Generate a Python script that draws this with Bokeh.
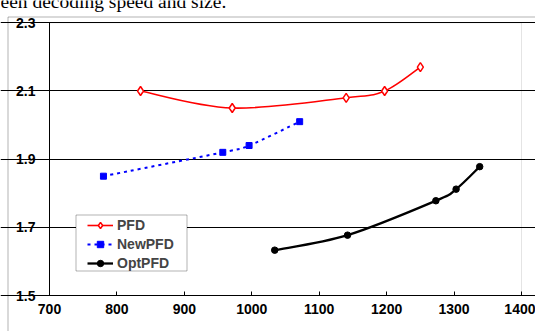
import numpy as np
from bokeh.plotting import figure
from bokeh.models import (Range1d, FixedTicker, BoxAnnotation, Label, Legend,
                          LegendItem)
from bokeh.embed import file_html
from bokeh.resources import INLINE

# ---- data ----
pfd_x = [835, 971, 1140, 1197, 1250]
pfd_y = [2.10, 2.05, 2.08, 2.10, 2.17]
newpfd_x = [780, 957, 996, 1071]
newpfd_y = [1.85, 1.92, 1.94, 2.01]
optpfd_x = [1034, 1142, 1273, 1303, 1338]
optpfd_y = [1.633, 1.677, 1.778, 1.812, 1.878]

x_ticks = [700, 800, 900, 1000, 1100, 1200, 1300, 1400]
y_ticks = [1.5, 1.7, 1.9, 2.1, 2.3]
y_tick_labels = ["1.5", "1.7", "1.9", "2.1", "2.3"]
series_names = ["PFD", "NewPFD", "OptPFD"]
caption = "een decoding speed and size."

FONT = "Liberation Sans"

# ---- layout (pixels) ----
W, H = 535, 331
PLOT_L, PLOT_R, PLOT_T, PLOT_B = 49, 521, 22.3, 295
XMIN, XMAX = x_ticks[0], x_ticks[-1]
YMIN, YMAX = y_ticks[0], y_ticks[-1]
ppx = (PLOT_R - PLOT_L) / (XMAX - XMIN)
ppy = (PLOT_B - PLOT_T) / (YMAX - YMIN)
x_range = Range1d(XMIN - PLOT_L / ppx, XMAX + (W - PLOT_R) / ppx)
y_range = Range1d(YMIN - (H - PLOT_B) / ppy, YMAX + PLOT_T / ppy)


def bezier_segments(xs, ys):
    """Smoothed (Excel-like) curve through the data points as cubic Bezier segments."""
    x = np.asarray(xs, float)
    y = np.asarray(ys, float)
    n = len(x)
    xp = np.concatenate([[x[0]], x, [x[-1]]])
    yp = np.concatenate([[y[0]], y, [y[-1]]])
    out = {k: [] for k in ("x0", "y0", "x1", "y1", "cx0", "cy0", "cx1", "cy1")}
    for i in range(n - 1):
        a, b, c, d = i, i + 1, i + 2, i + 3
        out["x0"].append(xp[b]); out["y0"].append(yp[b])
        out["x1"].append(xp[c]); out["y1"].append(yp[c])
        out["cx0"].append(xp[b] + (xp[c] - xp[a]) / 6.0)
        out["cy0"].append(yp[b] + (yp[c] - yp[a]) / 6.0)
        out["cx1"].append(xp[c] - (xp[d] - xp[b]) / 6.0)
        out["cy1"].append(yp[c] - (yp[d] - yp[b]) / 6.0)
    return out


p = figure(width=W, height=H, x_range=x_range, y_range=y_range,
           output_backend="svg", toolbar_location=None,
           min_border_left=0, min_border_right=0,
           min_border_top=0, min_border_bottom=0)
p.background_fill_color = "white"
p.border_fill_color = "white"
p.outline_line_color = None

# axes, drawn at the plot-area edges
p.xaxis.ticker = FixedTicker(ticks=x_ticks)
p.yaxis.ticker = FixedTicker(ticks=y_ticks)
p.yaxis.major_label_overrides = {t: l for t, l in zip(y_ticks, y_tick_labels)}
p.xaxis.fixed_location = YMIN
p.yaxis.fixed_location = XMIN
p.xaxis.bounds = (XMIN, XMAX)
p.yaxis.bounds = (YMIN, YMAX)
for ax in (p.xaxis, p.yaxis):
    ax.axis_line_color = "black"
    ax.axis_line_width = 1
    ax.major_tick_line_color = "black"
    ax.major_tick_in = 4
    ax.major_tick_out = 0
    ax.minor_tick_line_color = None
    ax.major_label_text_font = FONT
    ax.major_label_text_font_style = "bold"
    ax.major_label_text_font_size = "14px"
    ax.major_label_text_color = "black"
p.xaxis.major_label_standoff = 8
p.yaxis.major_label_standoff = 14
p.yaxis.major_tick_line_color = None

p.xgrid.visible = False
p.ygrid.grid_line_color = "black"
p.ygrid.grid_line_width = 1
p.ygrid.bounds = (XMIN, XMAX)

# plot-area border (grey, visible on the right side)
area = BoxAnnotation(left=XMIN, right=XMAX, bottom=YMIN, top=YMAX,
                     fill_alpha=0, line_color="#a6a6a6", line_width=1, level="image")
p.add_layout(area)

# series
seg_cols = dict(x0="x0", y0="y0", x1="x1", y1="y1", cx0="cx0", cy0="cy0", cx1="cx1", cy1="cy1")
r_pfd_line = p.bezier(source=bezier_segments(pfd_x, pfd_y), **seg_cols,
                      line_color="#ff0000", line_width=1.6)
r_pfd_pts = p.scatter(pfd_x, pfd_y, marker="diamond", size=9, line_color="#ff0000",
                      line_width=1.5, fill_color="white")

r_new_line = p.bezier(source=bezier_segments(newpfd_x, newpfd_y), **seg_cols,
                      line_color="#0000ff", line_width=2, line_dash="3 4")
r_new_pts = p.scatter(newpfd_x, newpfd_y, marker="square", size=6, line_color="#0000ff",
                      fill_color="#0000ff")

r_opt_line = p.bezier(source=bezier_segments(optpfd_x, optpfd_y), **seg_cols,
                      line_color="black", line_width=2.3)
r_opt_pts = p.scatter(optpfd_x, optpfd_y, marker="circle", size=6.5, line_color="black",
                      fill_color="black")

# outer chart-area border (its top and left edges are visible)
outer = BoxAnnotation(left=7.5, right=W + 5, top=16.5, bottom=H + 5,
                      left_units="canvas", right_units="canvas",
                      top_units="canvas", bottom_units="canvas",
                      fill_alpha=0, line_color="black", line_width=1)
p.add_layout(outer)

# legend frame
legend_box = BoxAnnotation(left=75.5, right=186.5, top=214.5, bottom=270.5,
                           left_units="canvas", right_units="canvas",
                           top_units="canvas", bottom_units="canvas",
                           fill_color="white", fill_alpha=1,
                           line_color="black", line_width=1)
p.add_layout(legend_box)

legend = Legend(items=[
    LegendItem(label=series_names[0], renderers=[r_pfd_line, r_pfd_pts]),
    LegendItem(label=series_names[1], renderers=[r_new_line, r_new_pts]),
    LegendItem(label=series_names[2], renderers=[r_opt_line, r_opt_pts]),
], location=(83, 56))
legend.background_fill_alpha = 0
legend.border_line_alpha = 0
legend.padding = 4
legend.margin = 0
legend.spacing = 3
legend.label_height = 16
legend.glyph_height = 16
legend.glyph_width = 26
legend.label_standoff = 4
legend.label_text_font = FONT
legend.label_text_font_style = "bold"
legend.label_text_font_size = "14px"
legend.label_text_baseline = "middle"
p.add_layout(legend, "center")

# caption text of the page, cut off at the top as in the reference
cap = Label(x=0, y=1, x_units="canvas", y_units="canvas", text=caption,
            text_font="Liberation Serif", text_font_size="19.5px",
            text_baseline="alphabetic", text_color="black")
p.add_layout(cap)

open("out.html", "w").write(file_html(p, INLINE))
